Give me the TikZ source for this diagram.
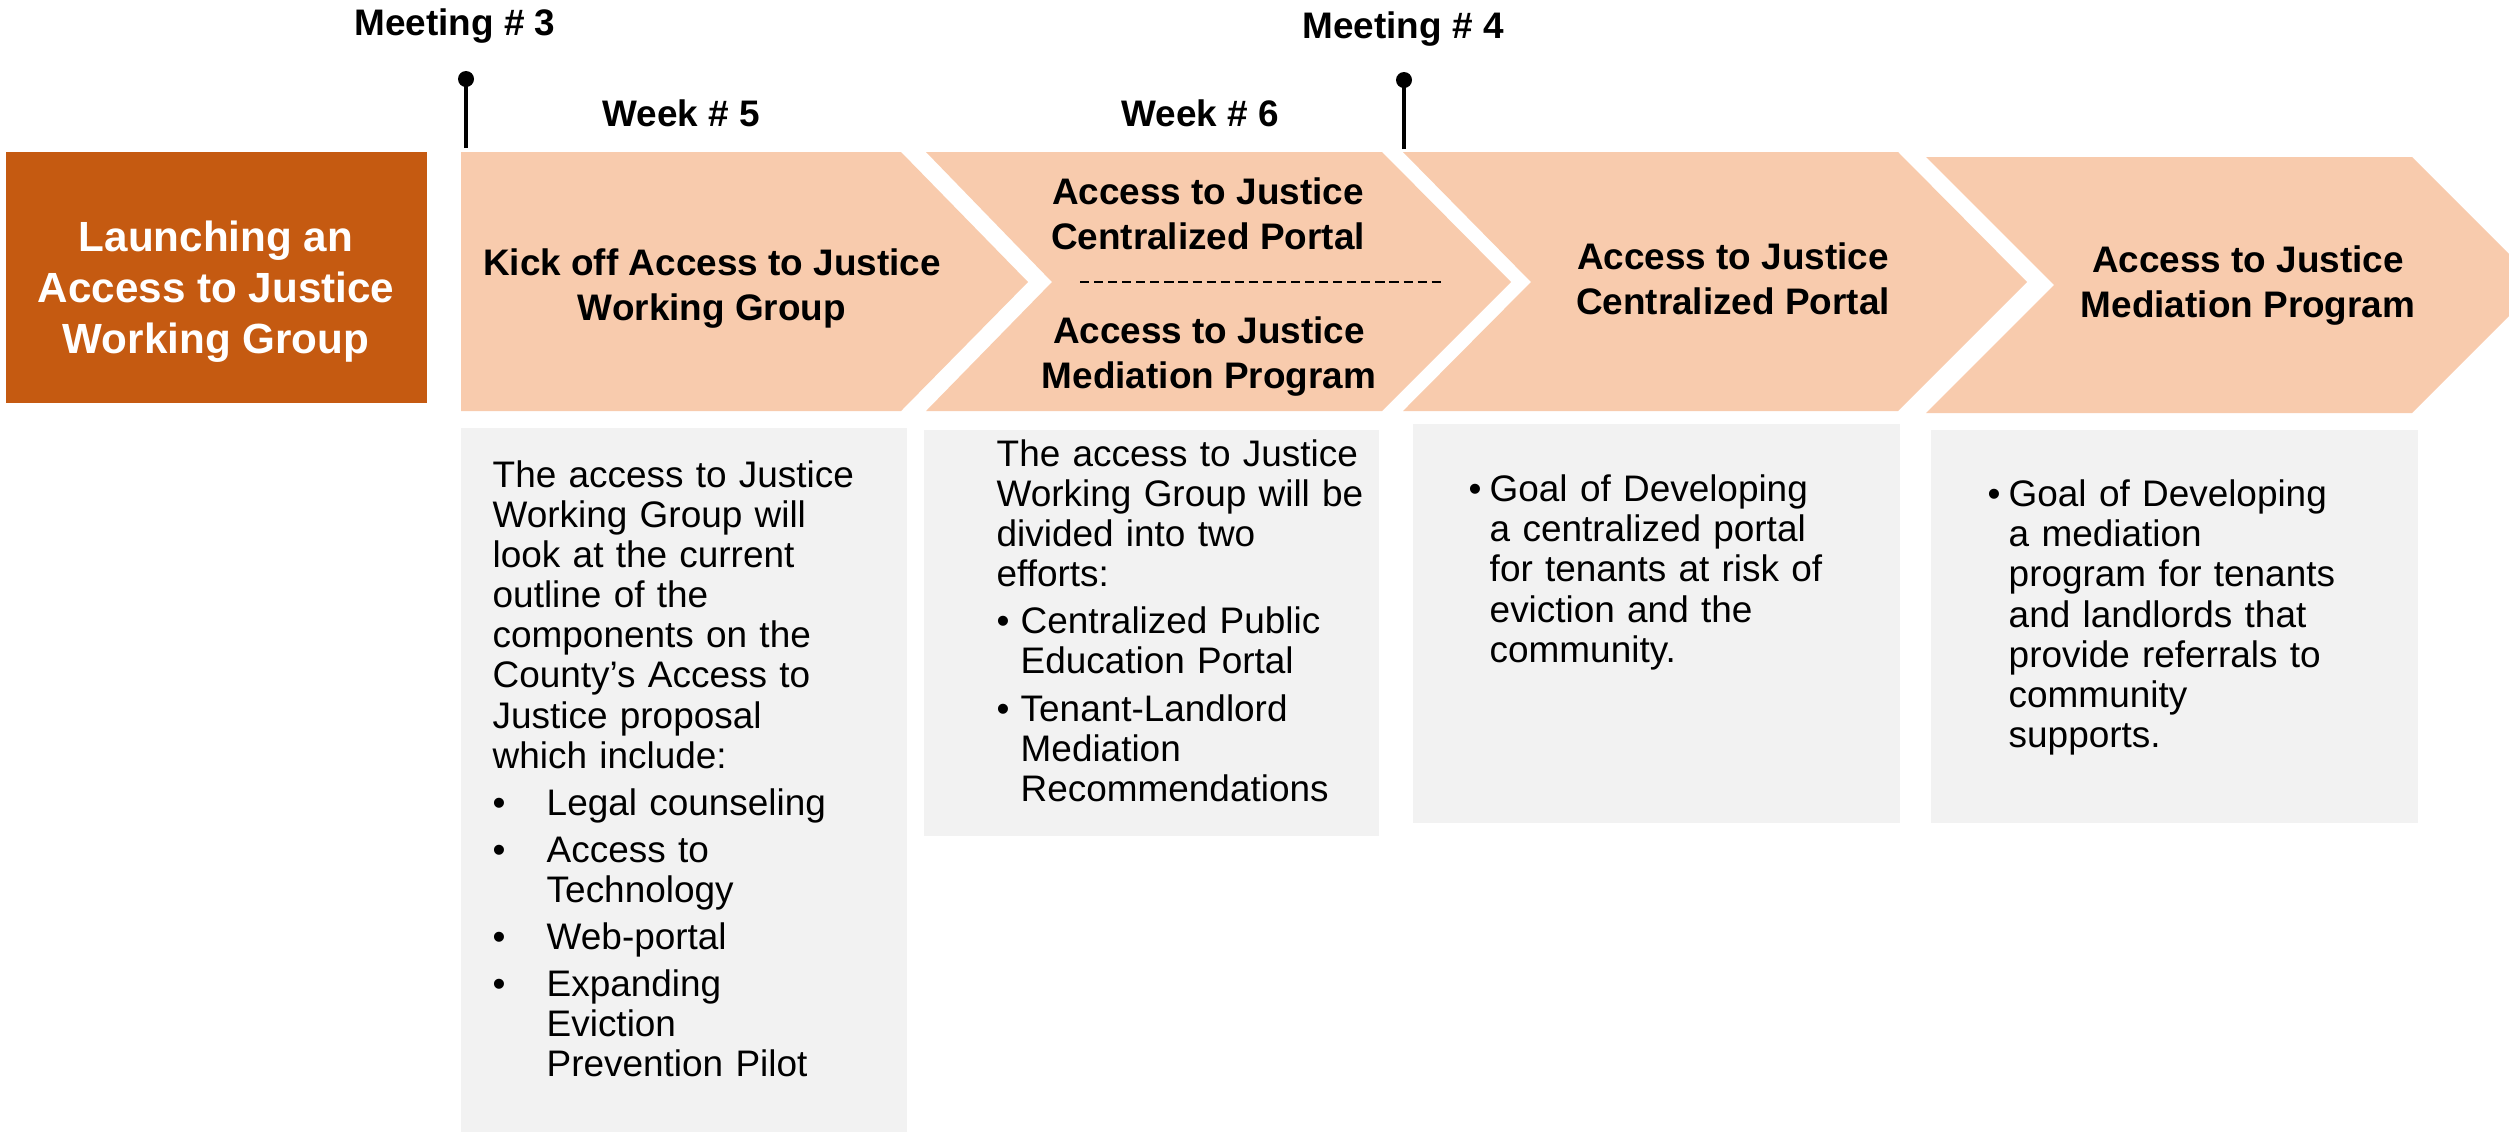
\documentclass[tikz,border=0pt]{standalone}
\usepackage{fontspec}
\setmainfont{Liberation Sans}
\usepackage{xcolor}
\usetikzlibrary{positioning}

\definecolor{launchorange}{HTML}{C55A11}
\definecolor{peach}{HTML}{F8CBAD}
\definecolor{panelgray}{HTML}{F2F2F2}

\newcommand{\bpoint}[2]{\par\hangindent=#1\hangafter=1\noindent\makebox[#1][l]{\textbullet}#2}

\tikzset{
  phase/.style={fill=peach},
  panel/.style={fill=panelgray},
  phasetext/.style={inner sep=0pt, anchor=north, align=center, font=\fontsize{10.5}{12.8}\selectfont\bfseries},
  bodytext/.style={inner sep=0pt, anchor=north west, align=left, font=\fontsize{10.5}{11.4}\selectfont},
  milestone/.style={inner sep=0pt, anchor=base, font=\fontsize{10.5}{12}\selectfont\bfseries},
  pin/.style={line width=1.1pt}
}

\begin{document}
\begin{tikzpicture}[x=0.01cm, y=-0.01cm]
    \clip (0,0) rectangle (2509,1132);

    % Start box
    \fill[launchorange] (6,152) rectangle (427,403);
    \node[inner sep=0pt, anchor=north, align=center, text=white,
          font=\fontsize{12}{14.5}\selectfont\bfseries] (launch) at (216,220)
          {Launching an\\Access to Justice\\Working Group};

    % Chevrons
    \fill[phase] (461,152) -- (901,152) -- (1028,282) -- (901,411) -- (461,411) -- cycle;
    \fill[phase] (926,152) -- (1382,152) -- (1511,282) -- (1382,411) -- (926,411) -- (1052,282) -- cycle;
    \fill[phase] (1403,152) -- (1898,152) -- (2027,282) -- (1898,411) -- (1403,411) -- (1531,282) -- cycle;
    \fill[phase] (1926,157) -- (2412,157) -- (2540,285) -- (2412,413) -- (1926,413) -- (2054,285) -- cycle;

    % Chevron titles
    \node[phasetext] (kicktitle) at (712,248) {Kick off Access to Justice\\Working Group};
    \node[phasetext] (splitportal) at (1208,177) {Access to Justice\\Centralized Portal};
    \node[phasetext] (splitmediation) at (1209,316) {Access to Justice\\Mediation Program};
    \coordinate (divleft) at (1080,282);
    \coordinate (divright) at (1444,282);
    \draw[line width=0.5pt, dash pattern=on 2.6pt off 1.4pt] (divleft) -- (divright);
    \node[phasetext] (portaltitle) at (1733,242) {Access to Justice\\Centralized Portal};
    \node[phasetext] (mediationtitle) at (2248,245) {Access to Justice\\Mediation Program};

    % Milestones
    \node[milestone] (meet3) at (455,35) {Meeting \# 3};
    \node[milestone] (meet4) at (1403,38) {Meeting \# 4};
    \node[milestone] (week5) at (681,126) {Week \# 5};
    \node[milestone] (week6) at (1200,126) {Week \# 6};
    \coordinate (pin3head) at (466,79);
    \coordinate (pin3foot) at (466,148);
    \coordinate (pin4head) at (1404,80);
    \coordinate (pin4foot) at (1404,149);
    \draw[pin] (pin3foot) -- (pin3head);
    \fill (pin3head) circle[radius=0.08cm];
    \draw[pin] (pin4foot) -- (pin4head);
    \fill (pin4head) circle[radius=0.08cm];

    % Detail panels
    \fill[panel] (461,428) rectangle (907,1132);
    \fill[panel] (924,430) rectangle (1379,836);
    \fill[panel] (1413,424) rectangle (1900,823);
    \fill[panel] (1931,430) rectangle (2418,823);

    \node[bodytext, text width=4cm] (kickbody) at (492,460) {%
        \parindent=0pt\parskip=2pt
        The access to Justice\\
        Working Group will\\
        look at the current\\
        outline of the\\
        components on the\\
        County’s Access to\\
        Justice proposal\\
        which include:
        \bpoint{0.54cm}{Legal counseling}
        \bpoint{0.54cm}{Access to\newline Technology}
        \bpoint{0.54cm}{Web-portal}
        \bpoint{0.54cm}{Expanding\newline Eviction\newline Prevention Pilot}\par};
    \node[bodytext, text width=4cm] (splitbody) at (996,439) {%
        \parindent=0pt\parskip=2pt
        The access to Justice\\
        Working Group will be\\
        divided into two\\
        efforts:
        \bpoint{0.24cm}{Centralized Public\newline Education Portal}
        \bpoint{0.24cm}{Tenant-Landlord\newline Mediation\newline Recommendations}\par};
    \node[bodytext, text width=4cm] (portalbody) at (1468,461) {%
        \parindent=0pt\parskip=0pt
        \bpoint{0.21cm}{Goal of Developing\newline a centralized portal\newline for tenants at risk of\newline eviction and the\newline community.}\par};
    \node[bodytext, text width=4cm] (mediationbody) at (1987,466) {%
        \parindent=0pt\parskip=0pt
        \bpoint{0.21cm}{Goal of Developing\newline a mediation\newline program for tenants\newline and landlords that\newline provide referrals to\newline community\newline supports.}\par};
\end{tikzpicture}
\end{document}
